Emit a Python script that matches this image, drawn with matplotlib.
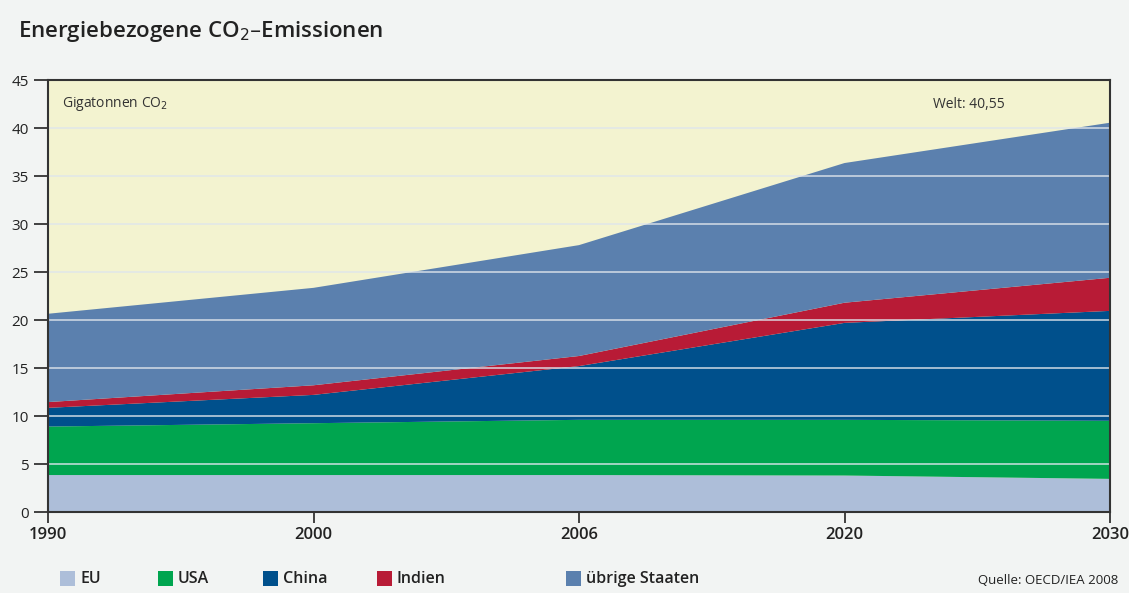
import matplotlib
matplotlib.use("Agg")
import matplotlib.pyplot as plt
from matplotlib.patches import Rectangle
import numpy as np

years = ["1990", "2000", "2006", "2020", "2030"]
series_names = ["EU", "USA", "China", "Indien", "übrige Staaten"]
eu = [3.85, 3.85, 3.85, 3.80, 3.45]
usa = [5.05, 5.40, 5.75, 5.80, 6.05]
china = [1.95, 2.95, 5.60, 10.10, 11.45]
indien = [0.60, 1.00, 1.05, 2.10, 3.45]
uebrige = [9.20, 10.15, 11.55, 14.55, 16.15]
colors = ["#adbed9", "#00a54f", "#00508c", "#b81b36", "#5b80ae"]
y_ticks = [0, 5, 10, 15, 20, 25, 30, 35, 40, 45]

FONT = ["Open Sans", "DejaVu Sans"]
plt.rcParams["font.family"] = FONT

fig = plt.figure(figsize=(11.29, 5.93), dpi=100, facecolor="#f2f4f3")
ax = fig.add_axes([48/1129, 1-512/593, (1110-48)/1129, (512-80)/593])
ax.set_facecolor("#f3f3d0")

x = np.arange(len(years))
ax.stackplot(x, eu, usa, china, indien, uebrige, colors=colors, linewidth=0, zorder=1)

for yt in y_ticks[1:-1]:
    ax.axhline(yt, color="#dfe5ec", alpha=0.85, lw=1.2, zorder=2)

ax.set_xlim(0, len(years)-1)
ax.set_ylim(0, 45)
ax.set_xticks(x)
ax.set_xticklabels(years, fontsize=12, fontweight="semibold", color="#222222")
ax.set_yticks(y_ticks)
ax.set_yticklabels([str(v) for v in y_ticks], fontsize=11, color="#222222")
ax.tick_params(axis="y", direction="out", length=10, width=1.3, color="#333333", pad=4)
ax.tick_params(axis="x", direction="out", length=8, width=1.3, color="#333333", pad=3)
for s in ax.spines.values():
    s.set_color("#333333")
    s.set_linewidth(1.5)
    s.set_zorder(5)

ax.text(14/1062, 1-24/432, "Gigatonnen CO$_2$", transform=ax.transAxes, fontsize=10,
        color="#333333", ha="left", va="center")
total = np.sum([eu, usa, china, indien, uebrige], axis=0)[-1]
ax.text((933-48)/1062, 1-24/432, "Welt: " + f"{total:.2f}".replace(".", ","),
        transform=ax.transAxes, fontsize=10, color="#333333", ha="left", va="center")

fig.text(18/1129, 1-32/593, "Energiebezogene CO$_2$–Emissionen", fontsize=16,
         fontweight="semibold", color="#222222", ha="left", va="center")

leg_x = [60, 158, 263, 377, 566]
for lx, name, c in zip(leg_x, series_names, colors):
    fig.patches.append(Rectangle((lx/1129, 1-586/593), 15/1129, 15/593,
                                 transform=fig.transFigure, facecolor=c, edgecolor="none"))
    fig.text((lx+20)/1129, 1-579/593, name, fontsize=11.5, fontweight="semibold",
             color="#222222", ha="left", va="center")

fig.text(1118/1129, 1-580/593, "Quelle: OECD/IEA 2008", fontsize=9.5,
         color="#222222", ha="right", va="center")

fig.savefig("out.png", dpi=100, facecolor=fig.get_facecolor())
